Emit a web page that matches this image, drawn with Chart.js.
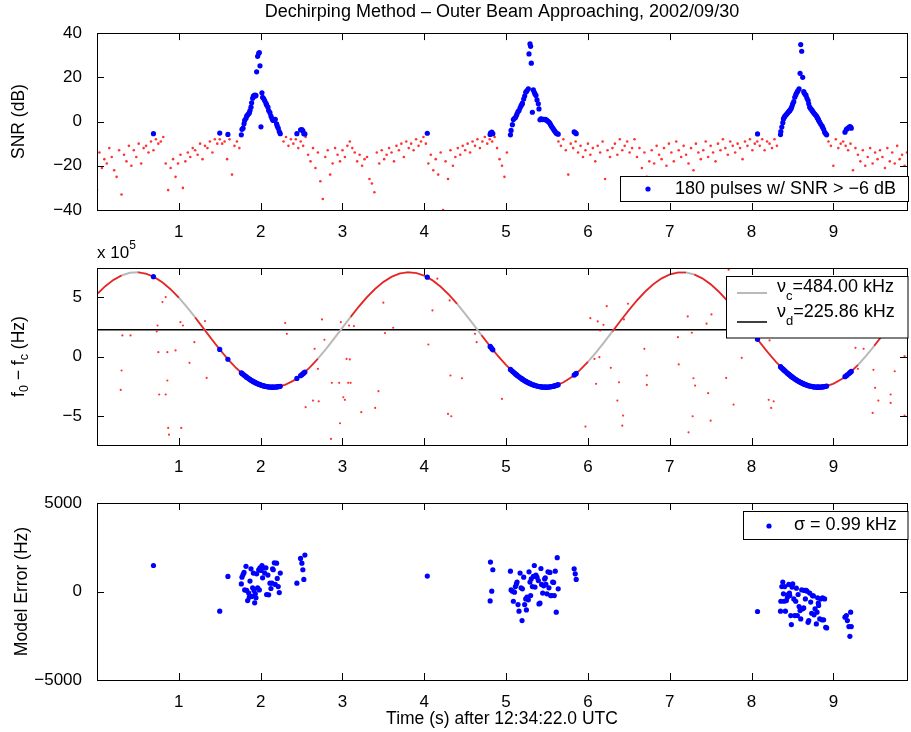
<!DOCTYPE html>
<html><head><meta charset="utf-8">
<script src="https://cdn.jsdelivr.net/npm/chart.js@4.4.1/dist/chart.umd.min.js"></script>
<style>
html,body{margin:0;padding:0;background:#fff;overflow:hidden}
#wrap{position:relative;width:911px;height:732px;background:#fff}
canvas{position:absolute;left:0}
</style></head><body>
<div id="wrap">
<canvas id="c1" width="911" height="240" style="top:0px"></canvas>
<canvas id="c2" width="911" height="235" style="top:240px"></canvas>
<canvas id="c3" width="911" height="257" style="top:475px"></canvas>
</div>
<script>
// ---------------- DATA ----------------
const titleText = 'Dechirping Method \u2013 Outer Beam Approaching, 2002/09/30';
const xTitle = 'Time (s) after 12:34:22.0 UTC';
const timeTicks = [1,2,3,4,5,6,7,8,9];
const snrTicks = [-40,-20,0,20,40];
const freqTicks = [-500000,0,500000];
const errTicks = [-5000,0,5000];
const pulseCount = 180;
const snrThreshold = -6;
const nuC = 484.00;      // kHz
const nuD = 225.86;      // kHz
const sigmaKHz = 0.99;

// detected pulses (blue)
const blueT = [0.69,1.50,1.60,
 1.764,1.772,1.785,1.797,1.805,1.821,1.829,1.841,1.854,1.862,1.870,1.882,1.890,1.902,1.911,1.919,1.927,1.935,1.943,1.951,1.963,1.976,1.984,1.992,2.004,2.016,2.024,2.037,2.049,2.065,2.073,2.089,2.098,2.114,2.126,2.138,2.146,2.154,2.167,2.179,2.195,2.203,2.215,2.228,2.240,
 2.443,2.488,2.504,2.516,2.528,2.541,
 4.037,
 4.805,4.809,4.825,4.838,
 5.053,5.061,5.077,5.089,5.102,5.114,5.126,5.134,5.146,5.158,5.171,5.183,5.195,5.199,5.215,5.227,5.240,5.248,5.256,5.272,5.280,5.292,5.300,5.308,5.321,5.333,5.345,5.353,5.365,5.378,5.394,5.402,5.414,5.426,5.434,5.447,5.459,5.471,5.479,5.487,5.499,5.512,5.524,5.536,5.544,5.556,5.569,5.581,5.589,5.601,5.613,5.625,5.637,
 5.832,5.845,5.857,
 8.073,
 8.354,8.358,8.370,8.382,8.390,8.398,8.406,8.414,8.426,8.439,8.447,8.455,8.463,8.467,8.479,8.487,8.495,8.503,8.516,8.528,8.540,8.548,8.560,8.569,8.581,8.593,8.601,8.613,8.625,8.638,8.646,8.658,8.666,8.678,8.691,8.699,8.711,8.723,8.735,8.743,8.756,8.764,8.776,8.792,8.800,8.808,8.816,8.820,8.833,8.845,8.861,8.869,8.881,8.893,8.906,8.918,
 9.142,9.159,9.171,9.190,9.202,9.211,9.219];

const blueSNR = [-5.5,-5.2,-5.8,
 -6,-3.5,-3,-1,0.5,1.5,2.5,3,3.5,4,5,6.5,8.5,10.5,11.5,11.5,12,11.5,11.8,22.5,29.5,30.8,31.2,25.2,-2.4,13,11,10.4,9.5,8.3,7.5,6.5,5,4,2.5,1.5,0.8,0.5,0.6,1,-1,-2,-3,-4.5,-5.5,
 -5.5,-3.8,-3.6,-4.2,-5.5,-5.6,
 -5.3,
 -5.8,-5.2,-4.8,-5.5,
 -6,-4,-1.4,0.9,1.5,1.8,2.7,3.5,4.5,5,6.2,7.2,7.8,8.3,10.2,11.5,13.2,13.6,14,14.8,30.6,35.1,34,26.4,4.2,14.3,13.2,12.5,11.8,9.8,8,5.7,0.8,1.2,1.1,0.9,1,0.9,1,0.8,0.5,0.1,-0.3,-0.8,-1.5,-2.2,-2.9,-3.5,-4.1,-4.6,-5.3,-5.5,-5.7,
 -4.7,-5,-5.5,
 -5.6,
 -5.9,-4.5,-2.5,-0.5,1.2,1.8,2.3,2.7,3.2,3.7,4.2,4.5,4.8,5,5.6,6.2,7,8,9,11,12,12.8,13.5,14,14.8,21.8,34.8,31.8,20,13.5,12.8,12.2,11.8,10.5,9.5,8,6.5,5.8,5.3,4.8,4.2,3.7,3.2,2.6,2,1.5,1,0.5,-0.3,-1.1,-2,-2.6,-3.5,-4.8,-5.5,-6,
 -4.8,-3.5,-3.2,-2.6,-2.3,-2.5,-3];

const blueF0 = [672000,59400,-23000,
 -137400,-142200,-149700,-156600,-160900,-169500,-173700,-179800,-186200,-189900,-193600,-198900,-202400,-207300,-211000,-214000,-217000,-219900,-222700,-225400,-229200,-233100,-235300,-237500,-240400,-243300,-245000,-247600,-249700,-252200,-253300,-255100,-255900,-257100,-257600,-258000,-258100,-258000,-257800,-257200,-256100,-255400,-254100,-252500,-250700,
 -184800,-161500,-152600,-145800,-138600,-130800,
 667800,
 84900,81600,67600,56500,
 -108500,-113800,-124000,-131400,-139400,-146400,-153300,-157800,-164300,-170700,-177400,-183300,-189000,-190900,-198200,-203300,-208700,-211900,-214900,-220700,-223500,-227400,-229900,-232300,-235900,-239100,-242000,-243800,-246300,-248800,-251400,-252600,-254100,-255400,-256100,-257000,-257600,-258000,-258100,-258100,-257900,-257300,-256600,-255600,-254800,-253400,-251600,-249700,-248300,-245900,-243400,-240500,-237500,
 -156700,-149300,-142300,
 144400,
 -85500,-88300,-96600,-104500,-109900,-115100,-120200,-125200,-132700,-140500,-145200,-149800,-154400,-156700,-163300,-167600,-171700,-175900,-182400,-188200,-193700,-197200,-202500,-206300,-211100,-215600,-218500,-222800,-226700,-230900,-233200,-236400,-238500,-241500,-244500,-246200,-248400,-250500,-252300,-253400,-254900,-255700,-256700,-257600,-257900,-258000,-258100,-258100,-257900,-257400,-256400,-255800,-254600,-253100,-251300,-249300,
 -170200,-161000,-154400,-143500,-136300,-130800,-125900];

const blueErr = [1470,-1110,850,
 430,810,960,1080,90,1420,60,-510,-90,-320,590,1280,-280,210,1040,60,-640,-130,-360,1000,210,1230,90,1340,1190,1470,770,1340,1040,1340,-170,930,-190,470,170,470,1280,1230,1620,400,1600,740,280,-60,1040,
 470,1870,1600,1230,680,2060,
 870,
 -530,1660,20,1230,
 1150,90,20,-550,-40,280,430,530,-740,-1110,1040,210,-1640,150,810,-740,-420,-1040,-320,-470,1110,530,-230,720,280,850,1470,250,930,810,620,-700,-660,1300,400,-90,320,700,770,400,-130,1110,210,1080,-230,-230,530,510,-230,1150,-1170,1910,150,
 1280,1000,680,
 -1130,
 -1110,-550,280,530,-130,-550,280,-1110,-510,-320,-170,400,-90,-230,-1360,-1870,250,430,-420,-1360,-550,190,-1360,-170,-850,-1080,-1550,90,-980,-930,60,-420,60,20,-1740,-1640,-90,-600,-1230,-230,-250,-1320,-980,-1830,-1170,-360,-660,-790,-1550,-420,-1600,-360,-1600,-420,-2020,-2060,
 -1450,-1360,-1640,-1980,-2530,-1170,-1980];

// weak pulses (red) : SNR
const noiseT = [0,0.03,0.06,0.09,0.12,0.15,0.18,0.21,0.24,0.27,
 0.30,0.33,0.36,0.39,0.42,0.45,0.48,0.51,0.54,0.57,
 0.60,0.63,0.66,0.69,0.72,0.75,0.78,0.81,0.84,0.87,
 0.90,0.93,0.96,0.99,1.02,1.05,1.08,1.11,1.14,1.17,
 1.20,1.23,1.26,1.29,1.32,1.35,1.38,1.41,1.44,1.47,
 1.50,1.53,1.56,1.59,1.62,1.65,1.68,1.71,1.74,
 2.28,2.31,2.34,2.37,
 2.40,2.43,2.46,2.49,2.52,2.55,2.58,2.61,2.64,2.67,
 2.70,2.73,2.76,2.79,2.82,2.85,2.88,2.91,2.94,2.97,
 3.00,3.03,3.06,3.09,3.12,3.15,3.18,3.21,3.24,3.27,
 3.30,3.33,3.36,3.39,3.42,3.45,3.48,3.51,3.54,3.57,
 3.60,3.63,3.66,3.69,3.72,3.75,3.78,3.81,3.84,3.87,
 3.90,3.93,3.96,3.99,4.02,4.05,4.08,4.11,4.14,4.17,
 4.20,4.23,4.26,4.29,4.32,4.35,4.38,4.41,4.44,4.47,
 4.50,4.53,4.56,4.59,4.62,4.65,4.68,4.71,4.74,4.77,
 4.80,4.83,4.86,4.89,4.92,4.95,4.98,5.01,
 5.64,5.67,
 5.70,5.73,5.76,5.79,5.82,5.85,5.88,5.91,5.94,5.97,
 6.00,6.03,6.06,6.09,6.12,6.15,6.18,6.21,6.24,6.27,
 6.30,6.33,6.36,6.39,6.42,6.45,6.48,6.51,6.54,6.57,
 6.60,6.63,6.66,6.69,6.72,6.75,6.78,6.81,6.84,6.87,
 6.90,6.93,6.96,6.99,7.02,7.05,7.08,7.11,7.14,7.17,
 7.20,7.23,7.26,7.29,7.32,7.35,7.38,7.41,7.44,7.47,
 7.50,7.53,7.56,7.59,7.62,7.65,7.68,7.71,7.74,7.77,
 7.80,7.83,7.86,7.89,7.92,7.95,7.98,8.01,8.04,8.07,
 8.10,8.13,8.16,8.19,8.22,8.25,8.28,8.31,
 8.94,8.97,
 9.00,9.03,9.06,9.09,9.12,9.15,9.18,9.21,9.24,9.27,
 9.30,9.33,9.36,9.39,9.42,9.45,9.48,9.51,9.54,9.57,
 9.60,9.63,9.66,9.69,9.72,9.75,9.78,9.81,9.84,9.87,
 9.90];
const noiseSNR = [-31,-14,-21,-17,-19,-12,-16,-22,-25,-13,
 -33,-15,-18,-11,-20,-13,-16,-10,-19,-12,
 -11,-14,-9,-13,-8,-10,-9,-7,-19,-31,
 -21,-17,-25,-19,-15,-30,-18,-14,-16,-12,
 -13,-15,-10,-17,-11,-12,-9,-14,-8,-10,
 -8,-10,-9,-17,-8,-24,-11,-9,-12,
 -9,-7,-11,-8,
 -10,-8,-12,-9,-11,-7,-15,-18,-12,-21,
 -14,-27,-35,-16,-13,-24,-19,-12,-15,-18,
 -13,-16,-11,-9,-12,-14,-18,-15,-20,-17,
 -16,-26,-28,-32,-14,-19,-13,-17,-15,-12,
 -14,-18,-11,-13,-10,-16,-9,-12,-10,-13,
 -8,-11,-9,-7,-10,-19,-15,-22,-17,-24,
 -14,-40,-18,-26,-13,-20,-16,-12,-15,-11,
 -13,-10,-14,-9,-11,-8,-12,-9,-7,-10,
 -8,-9,-7,-12,-17,-20,-25,-14,
 -9,-11,
 -8,-13,-24,-10,-12,-9,-14,-11,-16,-13,
 -10,-15,-12,-18,-11,-14,-9,-26,-13,-16,
 -12,-10,-15,-8,-13,-11,-9,-14,-12,-8,
 -16,-12,-21,-14,-25,-18,-13,-19,-11,-15,
 -17,-12,-20,-10,-14,-18,-9,-13,-16,-11,
 -15,-19,-12,-22,-10,-14,-17,-13,-9,-16,
 -11,-14,-18,-10,-13,-8,-12,-15,-9,-11,
 -14,-10,-12,-17,-9,-11,-8,-13,-10,-9,
 -11,-8,-13,-9,-10,-12,-8,-11,
 -9,-11,
 -20,-8,-12,-10,-9,-11,-13,-10,-22,-12,
 -15,-18,-13,-20,-16,-12,-19,-14,-17,-13,
 -16,-21,-12,-18,-14,-19,-11,-17,-15,-20,
 -14];

// model frequency curve (Hz)
const curveT = [0.0,0.1,0.2,0.3,0.4,0.5,0.6,0.7,0.8,0.9,1.0,1.1,1.2,1.3,1.4,1.5,1.6,1.7,1.8,1.9,
 2.0,2.1,2.2,2.3,2.4,2.5,2.6,2.7,2.8,2.9,3.0,3.1,3.2,3.3,3.4,3.5,3.6,3.7,3.8,3.9,
 4.0,4.1,4.2,4.3,4.4,4.5,4.6,4.7,4.8,4.9,5.0,5.1,5.2,5.3,5.4,5.5,5.6,5.7,5.8,5.9,
 6.0,6.1,6.2,6.3,6.4,6.5,6.6,6.7,6.8,6.9,7.0,7.1,7.2,7.3,7.4,7.5,7.6,7.7,7.8,7.9,
 8.0,8.1,8.2,8.3,8.4,8.5,8.6,8.7,8.8,8.9,9.0,9.1,9.2,9.3,9.4,9.5,9.6,9.7,9.8,9.9];
const curveF = [525400,591100,644100,682400,704400,709500,697400,668800,624400,565800,
 495400,415300,328600,238200,147300,59300,-22900,-96200,-158300,-206700,
 -239600,-256200,-255800,-238200,-204300,-155200,-92500,-18600,64000,152300,
 243200,333500,419900,499600,569500,627200,670800,698600,709700,703600,
 680600,641600,587800,521300,444300,359500,270000,179000,89600,5000,
 -71500,-138000,-191300,-229700,-252300,-257800,-246200,-218000,-174000,-115800,
 -45500,34300,120900,211200,302100,390300,472600,546200,608600,657300,
 690800,707700,707700,690600,657200,608400,545900,472300,389900,301700,
 210700,120500,33900,-45900,-116000,-174200,-218200,-246400,-257900,-252300,
 -229600,-191100,-137800,-71500,5500,89900,179500,270400,359900,444600];
// time spans where no red measurements sit on the model curve
const curveGaps = [[0.3,0.5],[1.0,1.2],[2.7,3.1],[4.4,4.7],[6.0,6.3],[7.2,7.3],[9.3,9.5]];
const dopplerT = [0, 9.9];
const dopplerF = [225860, 225860];

// off-curve red frequency estimates (Hz)
const outT = [0.31,0.41,0.30,0.29,0.74,0.73,0.80,0.84,0.75,0.86,0.86,0.76,0.84,0.87,0.88,0.96,1.02,1.05,1.03,1.13,1.19,1.32,1.34,
 2.30,2.32,2.55,2.64,2.66,2.70,2.71,2.75,2.78,2.87,2.86,2.96,2.97,2.98,3.01,3.03,3.05,3.07,3.08,3.09,3.10,3.14,3.23,3.40,3.44,3.50,3.52,3.62,
 4.05,4.10,4.16,4.29,4.31,4.32,4.33,4.46,4.62,4.64,4.95,
 5.97,6.03,6.08,6.10,6.12,6.14,6.15,6.19,6.23,6.28,6.36,6.38,6.43,6.42,6.44,6.49,6.69,6.72,6.72,
 7.10,7.11,7.22,7.27,7.29,7.31,7.23,7.28,7.45,7.47,7.50,7.51,7.69,7.72,7.78,7.88,8.22,8.21,8.24,8.27,
 9.27,9.30,9.37,9.48,9.49,9.51,9.55,9.70,9.70,9.75,9.87,9.87,9.87];
const outF = [177000,177000,-118000,-281000,261000,211000,458000,500000,36000,36000,-202000,-320000,-320000,-601000,-658000,51000,289000,261000,-601000,-53000,121000,298000,-180000,
 281000,191000,-427000,-371000,65000,-104000,-377000,312000,141000,-222000,-694000,-222000,-562000,289000,-343000,-365000,-20000,-222000,261000,-25000,-222000,256000,-469000,-433000,-292000,453000,197000,242000,
 101000,388000,655000,-483000,472000,-160000,-503000,-183000,191000,121000,-357000,
 -590000,323000,-20000,-230000,295000,-6000,219000,267000,424000,-95000,-371000,-217000,-497000,-582000,312000,444000,65000,-239000,-160000,
 163000,-67000,337000,200000,-183000,-245000,-638000,-503000,276000,-309000,-540000,354000,-180000,731000,-405000,-11000,135000,-365000,-433000,-377000,
 73000,-104000,65000,-475000,-112000,-264000,-371000,-320000,-391000,-124000,458000,3000,-497000];

// ---------------- RENDERING ----------------
const FONT = "'Liberation Sans', Arial, Helvetica, sans-serif";
Chart.defaults.font.family = FONT;
Chart.defaults.color = '#000';
const BLUE = '#0000ff';
const RED = 'rgba(255,0,0,0.8)';
const GREY = 'rgb(185,185,185)';

const fmt = v => (v < 0 ? '\u2212' + Math.abs(v) : String(v));
const setTicks = arr => s => { s.ticks = arr.map(v => ({ value: v })); };
const pts = (xs, ys) => xs.map((x, i) => ({ x: x, y: ys[i] }));

function xAxis(height, title) {
  return {
    type: 'linear', min: 0, max: 9.9,
    afterBuildTicks: setTicks(timeTicks),
    afterFit: s => { s.height = height; },
    grid: { display: false }, border: { display: false },
    ticks: { font: { size: 17 }, padding: 4, color: '#000', maxRotation: 0, autoSkip: false, callback: v => fmt(v) },
    title: title ? { display: true, text: title, font: { size: 17.5 }, color: '#000', padding: { top: 0, bottom: 2.5 } } : { display: false }
  };
}
function yAxis(min, max, ticks, cb, title, tpad) {
  return {
    type: 'linear', min: min, max: max,
    afterBuildTicks: setTicks(ticks),
    afterFit: s => { s.width = 97; },
    grid: { display: false }, border: { display: false },
    ticks: { font: { size: 17 }, padding: 7, color: '#000', callback: cb },
    title: title ? { display: true, text: title, font: { size: 17.5 }, color: '#000', padding: { top: tpad, bottom: 0 } } : { display: false }
  };
}

function drawRich(ctx, parts, x, y) {
  let cx = x;
  ctx.textBaseline = 'middle'; ctx.textAlign = 'left';
  parts.forEach(p => {
    ctx.font = p.s + 'px ' + FONT;
    ctx.fillText(p.t, cx, y + (p.dy || 0));
    cx += ctx.measureText(p.t).width;
  });
  return cx - x;
}
function richWidth(ctx, parts) {
  let w = 0;
  parts.forEach(p => { ctx.font = p.s + 'px ' + FONT; w += ctx.measureText(p.t).width; });
  return w;
}

const matlabAxes = {
  id: 'matlabAxes',
  afterDatasetsDraw(chart, args, opts) {
    const ctx = chart.ctx, a = chart.chartArea;
    const xs = chart.scales.x, ys = chart.scales.y;
    ctx.save();
    ctx.strokeStyle = '#000'; ctx.lineWidth = 1;
    ctx.beginPath();
    xs.ticks.forEach(t => {
      const p = Math.round(xs.getPixelForValue(t.value)) + 0.5;
      ctx.moveTo(p, a.bottom); ctx.lineTo(p, a.bottom - 7);
      ctx.moveTo(p, a.top); ctx.lineTo(p, a.top + 7);
    });
    ys.ticks.forEach(t => {
      const p = Math.round(ys.getPixelForValue(t.value)) + 0.5;
      ctx.moveTo(a.left, p); ctx.lineTo(a.left + 7, p);
      ctx.moveTo(a.right, p); ctx.lineTo(a.right - 7, p);
    });
    ctx.stroke();
    ctx.strokeRect(Math.round(a.left) + 0.5, Math.round(a.top) + 0.5, Math.round(a.right - a.left), Math.round(a.bottom - a.top));

    // legend
    const lg = opts.legend;
    if (lg) {
      const b = lg.box;
      ctx.fillStyle = '#fff';
      ctx.fillRect(b[0], b[1], b[2], b[3]);
      ctx.strokeStyle = '#000'; ctx.lineWidth = 1;
      ctx.strokeRect(b[0], b[1], b[2], b[3]);
      lg.entries.forEach(e => {
        const ds = chart.data.datasets[e.ds];
        if (e.kind === 'dot') {
          ctx.fillStyle = ds.backgroundColor;
          ctx.beginPath(); ctx.arc(e.sx, e.y, ds.pointRadius, 0, Math.PI * 2); ctx.fill();
        } else {
          ctx.strokeStyle = ds.borderColor; ctx.lineWidth = ds.borderWidth;
          ctx.beginPath(); ctx.moveTo(e.x1, e.y); ctx.lineTo(e.x2, e.y); ctx.stroke();
        }
        ctx.fillStyle = '#000';
        drawRich(ctx, e.parts || [{ t: ds.label, s: 18 }], e.tx, e.ty);
      });
    }
    // extra texts
    (opts.texts || []).forEach(tx => {
      ctx.fillStyle = '#000';
      if (tx.rotate) {
        const w = richWidth(ctx, tx.parts);
        ctx.save();
        ctx.translate(tx.x, tx.y);
        ctx.rotate(-Math.PI / 2);
        drawRich(ctx, tx.parts, -w / 2, 0);
        ctx.restore();
      } else {
        drawRich(ctx, tx.parts, tx.x, tx.y);
      }
    });
    ctx.restore();
  }
};

const common = {
  responsive: false, animation: false, events: [], devicePixelRatio: 1,
};

// ---- Panel 1: SNR ----
new Chart(document.getElementById('c1'), {
  type: 'scatter',
  data: { datasets: [
    { label: pulseCount + ' pulses w/ SNR > \u2212' + Math.abs(snrThreshold) + ' dB', data: pts(blueT, blueSNR),
      backgroundColor: BLUE, borderWidth: 0, pointRadius: 2.6, order: 0 },
    { label: 'weak pulses', data: pts(noiseT, noiseSNR),
      backgroundColor: RED, borderWidth: 0, pointRadius: 1.3, order: 1 }
  ]},
  options: Object.assign({}, common, {
    layout: { padding: { left: 0, right: 1, top: 0, bottom: 0 } },
    scales: {
      x: xAxis(30, null),
      y: yAxis(-40, 40, snrTicks, v => fmt(v), 'SNR (dB)', 8.5)
    },
    plugins: {
      legend: { display: false }, tooltip: { enabled: false },
      title: { display: true, text: titleText, fullSize: false, font: { size: 18, weight: 'normal' }, color: '#000', padding: { top: 1.5, bottom: 10 } },
      matlabAxes: { legend: { box: [620.5, 176.5, 288, 25], entries: [ { kind: 'dot', ds: 0, sx: 648, y: 189, tx: 675, ty: 189.5 } ] } }
    }
  }),
  plugins: [matlabAxes]
});

// ---- Panel 2: frequency ----
const inGap = (x0, x1) => curveGaps.some(g => x0 >= g[0] - 1e-6 && x1 <= g[1] + 1e-6);
new Chart(document.getElementById('c2'), {
  type: 'scatter',
  data: { datasets: [
    { label: 'detected pulses', data: pts(blueT, blueF0), backgroundColor: BLUE, borderWidth: 0, pointRadius: 2.6, order: 0 },
    { label: 'on-model estimates', data: pts(curveT, curveF), showLine: true, pointRadius: 0, borderWidth: 1.6,
      borderColor: 'rgba(255,0,0,0.85)', backgroundColor: 'rgba(255,0,0,0.85)', order: 1,
      segment: { borderColor: c => inGap(c.p0.parsed.x, c.p1.parsed.x) ? 'rgba(0,0,0,0)' : 'rgba(255,0,0,0.85)' } },
    { label: 'off-model estimates', data: pts(outT, outF), backgroundColor: RED, borderWidth: 0, pointRadius: 1.1, order: 2 },
    { label: '\u03bdc=' + nuC.toFixed(2) + ' kHz', data: pts(curveT, curveF), showLine: true, pointRadius: 0,
      borderWidth: 2, borderColor: GREY, backgroundColor: GREY, order: 3 },
    { label: '\u03bdd=' + nuD.toFixed(2) + ' kHz', data: pts(dopplerT, dopplerF), showLine: true, pointRadius: 0,
      borderWidth: 1.5, borderColor: '#000', backgroundColor: '#000', order: 4 }
  ]},
  options: Object.assign({}, common, {
    layout: { padding: { left: 0, right: 1, top: 28, bottom: 0 } },
    scales: {
      x: xAxis(30, null),
      y: yAxis(-745000, 745000, freqTicks, v => fmt(v / 100000), null, 0)
    },
    plugins: {
      legend: { display: false }, tooltip: { enabled: false },
      matlabAxes: {
        legend: { box: [726.5, 36.5, 181.5, 61.5], entries: [
          { kind: 'line', ds: 3, x1: 737, x2: 767, y: 53, tx: 777, ty: 47.5,
            parts: [ { t: '\u03bd', s: 18 }, { t: 'c', s: 13, dy: 9 }, { t: '=' + nuC.toFixed(2) + ' kHz', s: 18 } ] },
          { kind: 'line', ds: 4, x1: 737, x2: 767, y: 82, tx: 777, ty: 72.5,
            parts: [ { t: '\u03bd', s: 18 }, { t: 'd', s: 13, dy: 9 }, { t: '=' + nuD.toFixed(2) + ' kHz', s: 18 } ] }
        ]},
        texts: [
          { x: 97, y: 13, parts: [ { t: 'x 10', s: 17 }, { t: '5', s: 12, dy: -7 } ] },
          { rotate: true, x: 19, y: 116.5, parts: [ { t: 'f', s: 17.5 }, { t: '0', s: 12.5, dy: 6 }, { t: ' \u2212 f', s: 17.5 }, { t: 'c', s: 12.5, dy: 6 }, { t: ' (Hz)', s: 17.5 } ] }
        ]
      }
    }
  }),
  plugins: [matlabAxes]
});

// ---- Panel 3: model error ----
new Chart(document.getElementById('c3'), {
  type: 'scatter',
  data: { datasets: [
    { label: '\u03c3 = ' + sigmaKHz.toFixed(2) + ' kHz', data: pts(blueT, blueErr), backgroundColor: BLUE, borderWidth: 0, pointRadius: 2.6 }
  ]},
  options: Object.assign({}, common, {
    layout: { padding: { left: 0, right: 1, top: 28, bottom: 0 } },
    scales: {
      x: xAxis(52, xTitle),
      y: yAxis(-5000, 5000, errTicks, v => fmt(v), 'Model Error (Hz)', 11.5)
    },
    plugins: {
      legend: { display: false }, tooltip: { enabled: false },
      matlabAxes: { legend: { box: [743.5, 36.5, 164.5, 28], entries: [ { kind: 'dot', ds: 0, sx: 769, y: 51, tx: 794, ty: 50.5 } ] } }
    }
  }),
  plugins: [matlabAxes]
});
</script>
</body></html>
